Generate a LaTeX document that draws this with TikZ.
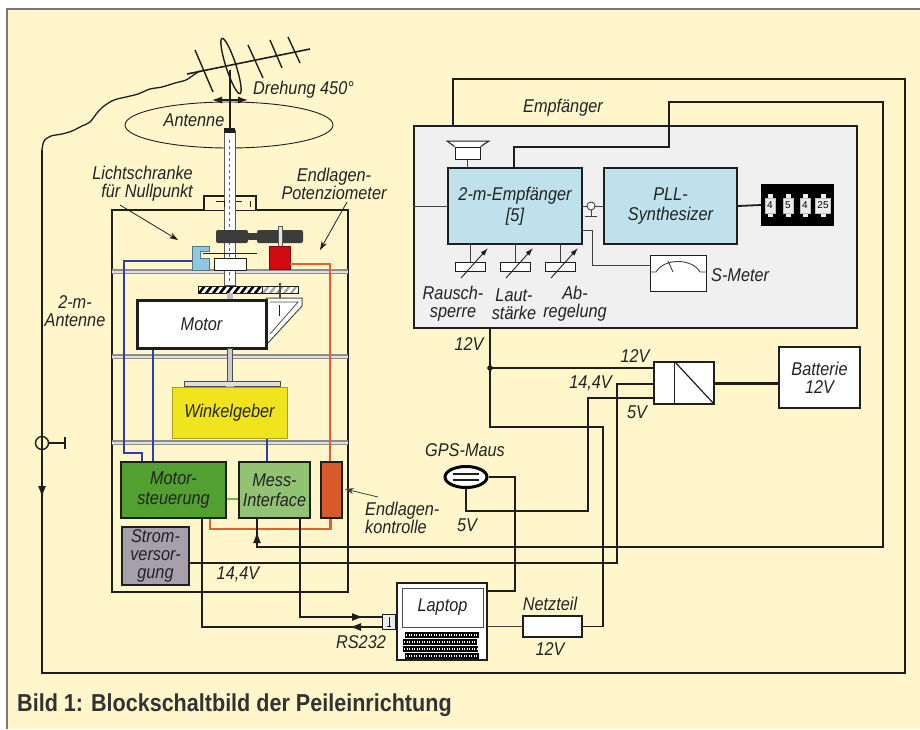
\documentclass[tikz,border=0pt]{standalone}
\usepackage{fontspec}
\setmainfont{Liberation Sans}
\newfontfamily\lblfam[FakeStretch=0.88]{Liberation Sans}
\usetikzlibrary{arrows.meta,calc,shapes.geometric}
\definecolor{bg}{RGB}{255,246,204}
\definecolor{wirec}{RGB}{30,30,30}
\definecolor{empf}{RGB}{240,240,240}
\definecolor{rxblue}{RGB}{190,225,235}
\definecolor{msgreen}{RGB}{82,160,50}
\definecolor{migreen}{RGB}{145,195,115}
\definecolor{ekor}{RGB}{215,90,40}
\definecolor{svgray}{RGB}{165,160,172}
\definecolor{wgyel}{RGB}{240,228,30}
\definecolor{blueline}{RGB}{45,65,165}
\definecolor{redline}{RGB}{225,95,55}
\definecolor{greenline}{RGB}{110,185,70}
\definecolor{lsblue}{RGB}{140,200,225}
\definecolor{potred}{RGB}{210,10,20}
\definecolor{gearc}{RGB}{60,60,60}
\definecolor{shelfc}{RGB}{140,140,140}
\definecolor{txt}{RGB}{35,35,35}
\definecolor{captxt}{RGB}{50,50,50}
\definecolor{framec}{RGB}{120,120,120}
\newcommand\lblfont{\lblfam\fontsize{18.5}{18}\selectfont\itshape}
\newcommand\capfont{\lblfam\fontsize{24.5}{26}\selectfont\bfseries}
\newcommand\digfont{\fontsize{10}{10}\selectfont}
\begin{document}
\begin{tikzpicture}[x=1pt,y=-1pt,
  wire/.style={draw=wirec,line width=1.8pt},
  fine/.style={draw=wirec!85,line width=0.9pt},
  box/.style={draw=wirec,line width=1.6pt,inner sep=0pt,font=\lblfont,text=txt,align=center},
  plain/.style={draw=wirec,line width=1.3pt,fill=white,inner sep=0pt},
  lbl/.style={font=\lblfont,text=txt,inner sep=0pt,align=center},
  tip/.style={-{Latex[length=12pt,width=8pt]}},
  ptr/.style={draw=wirec,line width=0.8pt,-{Stealth[length=9pt,width=6pt]}},
  bluew/.style={draw=blueline,line width=2.4pt},
  redw/.style={draw=redline,line width=2.4pt},
]
\useasboundingbox (0,0) rectangle (920,729);
% page and frame
\fill[white] (0,0) rectangle (920,729);
\fill[bg] (7,9) rectangle (920,729);
\draw[framec,line width=1.5pt] (7,729) -- (7,9) -- (920,9);

% ---------------- receiver unit ----------------
\node[box,fill=empf,minimum width=443,minimum height=202] (emp) at (635.5,227) {};
\node[lbl] (empl) at (563,108) {Empfänger};
\node[box,fill=rxblue,minimum width=134,minimum height=76] (rx) at (515,206) {2-m-Empfänger\\[3pt]{}[5]};
\node[box,fill=rxblue,minimum width=133,minimum height=76] (pll) at (670.5,206) {PLL-\\[2pt]Synthesizer};
% frequency switches
\node[fill=black,minimum width=73,minimum height=42,inner sep=0pt] (disp) at (797.5,205) {};
\foreach \cx/\d/\w in {770/4/10,788/5/10,805/4/10,823/25/15}{
  \fill[gray!15] (\cx-2.5,194) rectangle (\cx+2.5,217);
  \node[fill=gray!15,draw=gray!50,line width=0.5pt,minimum width=\w,minimum height=15,inner sep=0pt,font=\digfont] at (\cx,205.5) {\d};
}
\draw[wire] (pll.east) -- (disp.west);
% loudspeaker
\node[draw=wirec,fill=white,line width=1pt,minimum width=25,minimum height=12,inner sep=0pt] (spk) at (467.5,153) {};
\draw[wirec,line width=1pt,fill=white] (spk.north west) -- (447,141) -- (489,141) -- (spk.north east);
\draw[fine] (spk.south) -- (spk.south |- rx.north);
% antenna input inside the unit
\draw[fine] (rx.west -| emp.west) -- (rx.west);
% test point between receiver and synthesizer
\draw[fine] (rx.east) -- (pll.west);
\draw[fine,fill=white] (591,206) circle (4);
\draw[fine] (591,210) -- (591,216) (585,216) -- (597,216);
% S-meter
\node[draw=wirec,fill=white,line width=1pt,minimum width=56,minimum height=36,inner sep=0pt] (smeter) at (678,273) {};
\draw[fine] (650,272) -- (656,272) .. controls (664,258) and (692,258) .. (700,272) -- (706,272);
\draw[fine] (673,272) -- (668,261);
\draw[fine] ($(rx.east)+(0,24)$) -| ($(smeter.west)+(-57,-8)$) -- ($(smeter.west)+(0,-8)$);
\node[lbl,anchor=west] (sml) at (711,275) {S-Meter};
% potentiometers
\foreach \i/\px in {1/470,2/515,3/560}{
  \node[draw=wirec,fill=white,line width=0.9pt,minimum width=30,minimum height=9,inner sep=0pt] (pot\i) at (\px,266.5) {};
  \draw[fine] (pot\i.north) -- (pot\i.north |- rx.south);
  \draw[wirec,line width=0.9pt,-{Latex[length=8pt,width=5pt]}] (\px-9,278) -- (\px+18,248);
}
\node[lbl] (p1l) at (453,304) {Rausch-\\sperre};
\node[lbl] (p2l) at (514,304) {Laut-\\stärke};
\node[lbl] (p3l) at (575,304) {Ab-\\regelung};

% ---------------- power ----------------
\node[plain,minimum width=60,minimum height=42] (conv) at (684,383) {};
\draw[wirec,line width=1.2pt] ($(conv.north west)+(21,0)$) -- ($(conv.south west)+(21,0)$);
\draw[wirec,line width=1.2pt] ($(conv.north west)+(21,0)$) -- (conv.south east);
\node[box,fill=white,minimum width=81,minimum height=61] (batt) at (819.5,377.5) {Batterie\\12V};
\draw[wirec,line width=3pt] (conv.east) -- (conv.east -| batt.west);
\node[lbl] (l12a) at (469,344) {12V};
\node[lbl] (l12b) at (635,356) {12V};
\node[lbl,anchor=east] (l144a) at (612,383) {14,4V};
\node[lbl] (l5a) at (637,412) {5V};
\node[plain,minimum width=59,minimum height=21] (netz) at (552.5,626.5) {};
\node[lbl] (nzl) at (550,604) {Netzteil};
\node[lbl] (nzv) at (550,649) {12V};

% ---------------- laptop and GPS ----------------
\node[plain,minimum width=90,minimum height=77] (lap) at (442,621.5) {};
\node[draw=gray!60!black,line width=1pt,minimum width=81,minimum height=39,inner sep=0pt,lbl] (scr) at (442.5,607.5) {Laptop};
\foreach \ky/\ka/\kb in {635/405/479,642/403/477,649/403/478,656/405/479}{
  \fill[black] (\ka,\ky-2.6) rectangle (\kb,\ky+2.6);
  \draw[white,line width=1.2pt,dash pattern=on 1.3pt off 1.2pt] (\ka+1,\ky) -- (\kb-1,\ky);
}
\node[draw=wirec,fill=gray!15,line width=1pt,minimum width=13,minimum height=15,inner sep=0pt] (rs) at (389,622) {};
\draw[wirec,line width=0.8pt] (389,617) -- (389,626) (387,626) -- (391,626);
\node[lbl] (rsl) at (361,642) {RS232};
\node[ellipse,draw=black,line width=3pt,fill=white,minimum width=42,minimum height=21,inner sep=0pt] (gps) at (466,477) {};
\draw[wirec,line width=1.2pt] (453,474) -- (479,474) (453,480) -- (479,480);
\node[lbl] (gpsl) at (465,450) {GPS-Maus};
\node[lbl] (l5b) at (467,525) {5V};

% ---------------- antenna and rotator ----------------
\draw[wirec,line width=1.3pt] plot[smooth,tension=0.5] coordinates {(42,150) (44,141) (51,136) (62,134) (72,131) (82,126) (90,122) (97,113) (104,106) (114,100) (126,97) (138,94) (150,89) (162,87) (175,83) (186,80) (195,74) (200,71)};
\draw[wirec,line width=1.6pt] (187,74) -- (310,49);
\draw[wirec,line width=1.4pt] (195,50) -- (213,92) (248,45) -- (263,78) (270,40) -- (282,68) (288,37) -- (300,63);
\draw[wirec,line width=1.4pt,rotate around={-72:(231,66)}] (231,66) ellipse [x radius=29, y radius=5];
\draw[wirec,line width=2.6pt] (230,70) -- (230,130);
\node[lbl,anchor=west] (dreh) at (253,90) {Drehung 450°};
\draw[wirec,line width=0.9pt] (229,125) ellipse [x radius=104, y radius=23];
\node[lbl] (antl) at (194,120) {Antenne};
\draw[wirec,line width=1.2pt,{Latex[length=10pt,width=7pt]}-{Latex[length=10pt,width=7pt]}] (212,100) -- (248,100);

% housing
\node[draw=wirec,line width=1.6pt,minimum width=236,minimum height=382,inner sep=0pt] (hs) at (230,401) {};
\draw[wirec,line width=1.4pt,fill=bg] (204,210) -- (204,196) -- (256,196) -- (256,210);
\foreach \sy in {270,355,441}{
  \fill[gray!25] (112,\sy) rectangle (348,\sy+3.5);
  \draw[shelfc,line width=1.1pt] (112,\sy) -- (348,\sy) (112,\sy+3.5) -- (348,\sy+3.5);
}
% shaft tube
\draw[gray!70!black,fill=white,line width=0.9pt] (224,130) rectangle (235,285);
\fill[wirec] (224,128) rectangle (235,133);
\draw[gray!80!black,dashed,line width=0.8pt] (229.5,140) -- (229.5,282);
\draw[wirec,line width=0.8pt] (216,201) -- (224,201) -- (224,207) (236,201) -- (242,201) (250,201) -- (250,207);
% upper gear train
\fill[gearc,rounded corners=2pt] (216,230) rectangle (248,243);
\fill[gearc] (248,233) rectangle (257,240);
\fill[gearc,rounded corners=2pt] (257,230) rectangle (303,243);
\draw[gray!70!black,fill=gray!20,line width=0.6pt] (278,226) rectangle (282,247);
\node[fill=potred,draw=potred!60!black,line width=0.6pt,minimum width=21,minimum height=23,inner sep=0pt] (potr) at (279.5,257.5) {};
\draw[wirec,line width=1pt] (203,253) -- (257,253);
\draw[wirec,fill=white,line width=1pt] (214,258) rectangle (246,270);
\draw[fill=lsblue,draw=lsblue!60!black,line width=0.6pt] (192,246) -- (209,246) -- (209,251) -- (200,251) -- (200,258) -- (209,258) -- (209,270) -- (192,270) -- cycle;
\coordinate (lsw) at (192,261);
% drive gears
\begin{scope}
  \clip (198,286) rectangle (262,293);
  \fill[white] (198,286) rectangle (262,293);
  \foreach \k in {0,7,...,77} \draw[black,line width=2.6pt] (190+\k,296) -- (200+\k,283);
\end{scope}
\draw[wirec,line width=0.6pt] (198,286) rectangle (262,293);
\begin{scope}
  \clip (262,286) rectangle (298,293);
  \fill[white] (262,286) rectangle (298,293);
  \foreach \k in {0,7,...,49} \draw[gray!70,line width=2.4pt] (254+\k,296) -- (264+\k,283);
\end{scope}
\draw[wirec,line width=0.6pt] (262,286) rectangle (298,293);
\draw[gray!60!black,line width=1.5pt] (280,283) -- (280,298);
\fill[gray!50] (227,293) rectangle (233,300);
% motor with mounting bracket
\draw[gray!60!black,fill=white,line width=1pt] (266,298) -- (302,298) -- (302,306) -- (268,343) -- (266,343) -- cycle;
\draw[gray!60!black,line width=0.8pt] (270,302) -- (298,302) -- (270,334);
\draw[wirec,line width=1pt] (279,305) -- (279,316);
\node[box,fill=white,line width=3pt,minimum width=129,minimum height=48] (motor) at (201.5,324) {Motor};
\draw[gray!60!black,fill=gray!40,line width=0.6pt] (227,348) rectangle (232,381);
\draw[gray!60!black,fill=gray!25,line width=0.8pt] (184,381) rectangle (280,386);
\fill[gray!60] (226,386) rectangle (234,389);
\node[box,fill=wgyel,draw=wgyel!70!black,line width=1pt,minimum width=115,minimum height=51] (wg) at (229.5,412.5) {Winkelgeber};
% electronics
\node[box,fill=msgreen,minimum width=105,minimum height=56] (ms) at (173.5,490) {Motor-\\[2pt]steuerung};
\node[box,fill=migreen,minimum width=71,minimum height=56] (mi) at (274.5,490) {Mess-\\[2pt]Interface};
\node[box,fill=ekor,minimum width=21,minimum height=56] (ek) at (331.5,490) {};
\node[box,fill=svgray,minimum width=67,minimum height=58] (sv) at (155.5,556) {Strom-\\versor-\\gung};
\node[lbl] (l144b) at (238,574) {14,4V};
\node[lbl,align=left,anchor=west] (ekl) at (365,517.5) {Endlagen-\\kontrolle};
\draw[ptr,draw=gray!50!black] (378,497) -- ($(ek.east)+(2,-1)$);
% labels with pointers
\node[lbl,align=right,anchor=east] (lsl) at (193,183.5) {Lichtschranke\\für Nullpunkt};
\node[lbl] (epl) at (334,183.5) {Endlagen-\\Potenziometer};
\draw[ptr] (120,205) -- (178,240);
\draw[ptr] (347,202) -- (320,250);
\node[lbl] (al) at (75,311) {2-m-\\Antenne};

% coloured wiring inside the housing
\draw[bluew] (lsw) -- (124,261) -- (124,453) -- (142,453) -- ($(ms.north)+(-31.5,0)$);
\draw[bluew] ($(motor.south)+(-48.5,0)$) -- ($(ms.north)+(-20.5,0)$);
\draw[bluew] ($(wg.south)+(37.5,0)$) -- ($(mi.north)+(-7.5,0)$);
\draw[redw] ($(potr.east)+(0,6.5)$) -- (330,264) -- ($(ek.north)+(-1.5,0)$);
\draw[redw] ($(ek.south)+(-1,0)$) -- (330.5,529) -- (210,529) -- ($(ms.south)+(36.5,0)$);
\draw[draw=greenline,line width=2.4pt] ($(ms.east)+(0,9)$) -- ($(mi.west)+(0,9)$);

% ---------------- cabling ----------------
\coordinate (antfeed) at (42,150);
\draw[wire] (antfeed) |- (905,673) |- (453,79) -- ($(emp.north)+(-182.5,0)$);
\draw[wire,tip] (42,482) -- (42,498);
\draw[wirec,line width=1.4pt] (42,443) circle (6.5);
\draw[wirec,line width=1.4pt] (48.5,443) -- (65,443) (65,437) -- (65,449);
\draw[wire] ($(rx.north)+(-1,0)$) |- (669,147) |- (883,102) |- (257,547) -- ($(mi.south)+(-17.5,0)$);
\draw[wire,tip] (257,546) -- (257,531);
\draw[wire] ($(emp.south)+(-145.5,0)$) |- (603,427) |- (netz.east);
\fill[wirec] (490,368) circle (2.8);
\draw[wire] (490,368) -- ($(conv.west)+(0,-15)$);
\draw[wire] ($(sv.east)+(0,7)$) -- (617,563) |- ($(conv.west)+(0,1)$);
\draw[wire] (gps.south) |- (588,511) |- ($(conv.west)+(0,15)$);
\draw[wire] (gps.east) -| ($(lap.east)+(27,-30.5)$) -- ($(lap.east)+(0,-30.5)$);
\draw[fine] (netz.west) -- (netz.west -| lap.east);
\draw[wire] ($(ms.south)+(28.5,0)$) |- ($(rs.west)+(0,5)$);
\draw[wire,tip] (365,627) -- (349,627);
\draw[wire] ($(mi.south)+(25.5,0)$) |- ($(rs.west)+(0,-5)$);
\draw[wire,tip] (347,617) -- (364,617);

% caption
\node[anchor=west,font=\capfont,text=captxt,inner sep=0pt] (cap) at (17,705) {Bild 1: Blockschaltbild der Peileinrichtung};
\end{tikzpicture}
\end{document}
